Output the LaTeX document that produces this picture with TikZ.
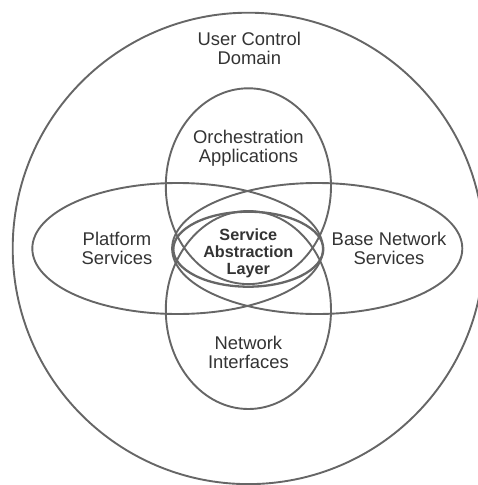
\documentclass[tikz,border=0pt]{standalone}
\usepackage{fontspec}
\setmainfont{Liberation Sans}
\definecolor{linegray}{HTML}{666666}
\definecolor{textgray}{HTML}{333333}
\begin{document}
\begin{tikzpicture}[x=1pt,y=-1pt,
  shapeline/.style={draw=linegray,line width=1.9pt},
  label/.style={text=textgray,align=center,inner sep=0pt,anchor=base,
    font=\fontsize{18.4}{18.6}\selectfont},
  boldlabel/.style={text=textgray,align=center,inner sep=0pt,anchor=base,
    font=\bfseries\fontsize{16.2}{16.6}\selectfont}]
\useasboundingbox (0,0) rectangle (478,485);
% outer domain circle
\draw[shapeline] (248.4,248.4) circle[radius=235.7];
% orchestration (top) and network interfaces (bottom)
\draw[shapeline] (248.4,186.2) ellipse[x radius=82.6,y radius=97.9];
\draw[shapeline] (248.4,310.0) ellipse[x radius=82.6,y radius=99.0];
% platform (left) and base network (right)
\draw[shapeline] (177.6,248.5) ellipse[x radius=145.3,y radius=65.5];
\draw[shapeline] (317.2,248.5) ellipse[x radius=145.1,y radius=65.5];
% service abstraction layer
\draw[shapeline,line width=2.3pt] (248.3,249.2) ellipse[x radius=75,y radius=37.5];
% labels (anchored at the baseline of the last line)
\node[label] (ucd) at (249.3,64.3) {User Control\\Domain};
\node[label] (orch) at (248.4,162) {Orchestration\\Applications};
\node[label] (plat) at (117,264.3) {Platform\\Services};
\node[label] (base) at (389,264.3) {Base Network\\Services};
\node[label] (netif) at (248.4,368.5) {Network\\Interfaces};
\node[boldlabel] (sal) at (248.3,274) {Service\\Abstraction\\Layer};
\end{tikzpicture}
\end{document}
